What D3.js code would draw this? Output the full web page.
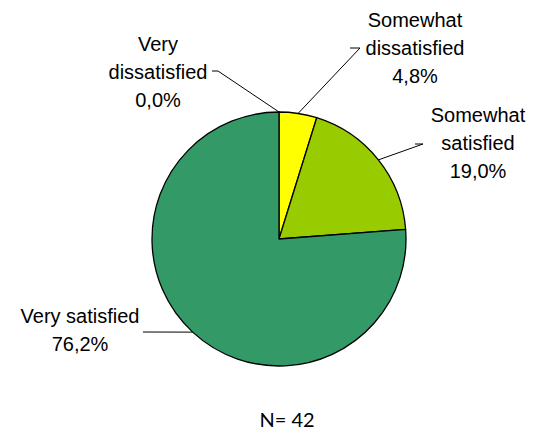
<!DOCTYPE html>
<html>
<head>
<meta charset="utf-8">
<script src="https://cdn.jsdelivr.net/npm/d3@7/dist/d3.min.js"></script>
<style>
html,body{margin:0;padding:0;background:#fff;}
svg{display:block;}
</style>
</head>
<body>
<svg id="chart" width="533" height="435"></svg>
<script>
// Data
const categories = ["Very dissatisfied", "Somewhat dissatisfied", "Somewhat satisfied", "Very satisfied"];
const labelLines = [["Very", "dissatisfied"], ["Somewhat", "dissatisfied"], ["Somewhat", "satisfied"], ["Very satisfied"]];
const percentages = [0.0, 4.8, 19.0, 76.2];
const colors = ["#FFFF00", "#FFFF00", "#99CC00", "#339966"];
const footnote = "N= 42";

// Layout
const W = 533, H = 435;
const cx = 279, cy = 239, R = 127;
// label layout: text centre x, first baseline y, leader stub [x1,x2,y]
const labelLayout = [
  {x: 158, y: 51, stub: [212, 218, 71]},
  {x: 415, y: 27, stub: [350, 360, 48]},
  {x: 478, y: 122, stub: [415, 423, 144]},
  {x: 80, y: 323, stub: [143, 143, 332]}
];
const lineH = 28;

const svg = d3.select("#chart");
const g = svg.append("g").attr("transform", `translate(${cx},${cy})`);

const pie = d3.pie().sort(null).value(d => d).startAngle(0).endAngle(2 * Math.PI);
const arcs = pie(percentages);
const arc = d3.arc().innerRadius(0).outerRadius(R);

g.selectAll("path.slice")
  .data(arcs)
  .enter().append("path")
  .attr("class", "slice")
  .attr("d", arc)
  .attr("fill", (d, i) => colors[i])
  .attr("stroke", "#000")
  .attr("stroke-width", 1.3)
  .attr("stroke-linejoin", "round");

// Labels + leader lines
const fmt = v => d3.format(".1f")(v).replace(".", ",") + "%";

arcs.forEach((a, i) => {
  const mid = (a.startAngle + a.endAngle) / 2;
  const px = cx + R * Math.sin(mid);
  const py = cy - R * Math.cos(mid);
  const L = labelLayout[i];
  svg.append("polyline")
    .attr("points", `${L.stub[0]},${L.stub[2]} ${L.stub[1]},${L.stub[2]} ${px},${py}`)
    .attr("fill", "none")
    .attr("stroke", "#000")
    .attr("stroke-width", 1);
  const lines = labelLines[i].concat([fmt(percentages[i])]);
  const t = svg.append("text")
    .attr("text-anchor", "middle")
    .attr("font-family", "Liberation Sans, Arial, sans-serif")
    .attr("font-size", 20)
    .attr("fill", "#000");
  lines.forEach((ln, j) => {
    t.append("tspan").attr("x", L.x).attr("y", L.y + j * lineH).text(ln);
  });
});

svg.append("text")
  .attr("x", 287)
  .attr("y", 427)
  .attr("text-anchor", "middle")
  .attr("font-family", "Lato, Carlito, Calibri, sans-serif")
  .attr("font-size", 20)
  .attr("fill", "#000")
  .text(footnote);
</script>
</body>
</html>
